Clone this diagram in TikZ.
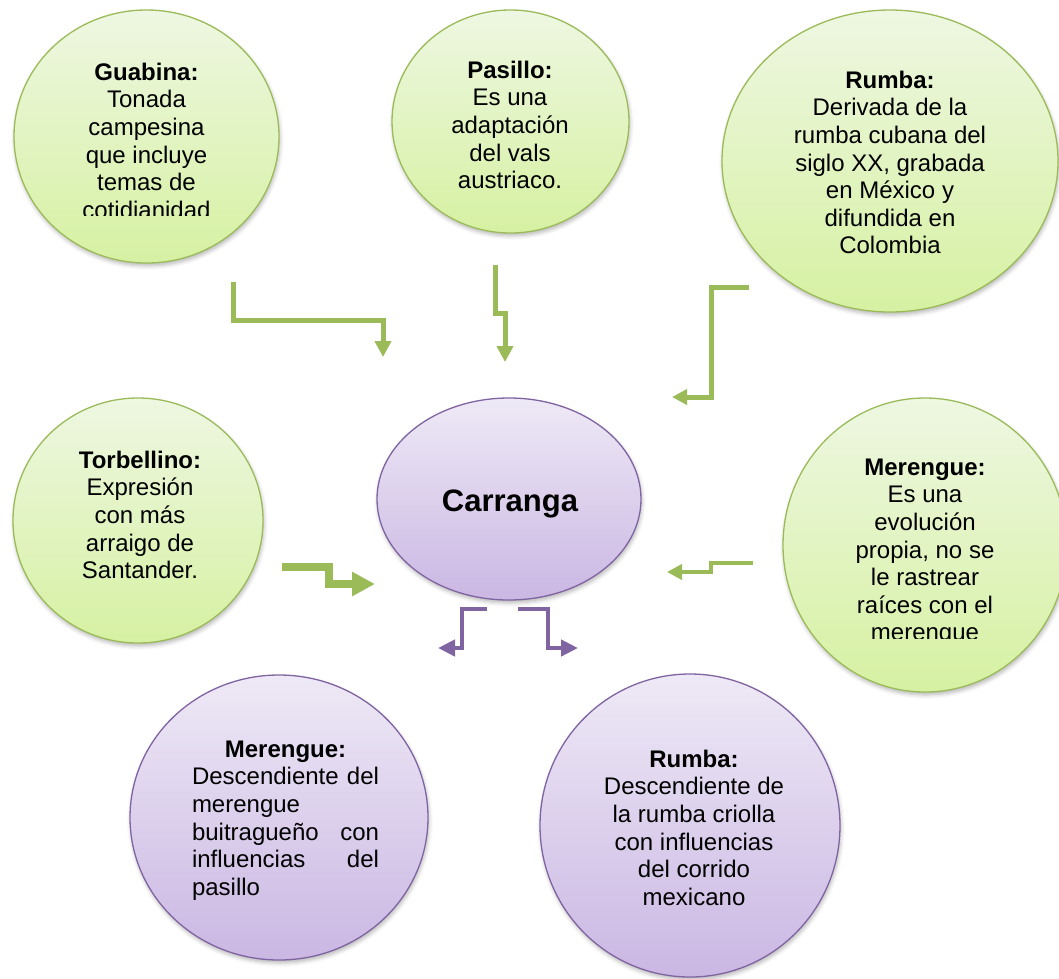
\documentclass[tikz,border=0pt]{standalone}
\usepackage{fontspec}
\setmainfont{Liberation Sans}
\usetikzlibrary{shapes.geometric,arrows.meta,shadows.blur}
\definecolor{grn}{HTML}{9BBB59}
\definecolor{gtop}{HTML}{EEF7E2}
\definecolor{gbot}{HTML}{D6F1A2}
\definecolor{pur}{HTML}{8064A2}
\definecolor{ptop}{HTML}{EEE9F6}
\definecolor{pbot}{HTML}{CAB7E3}
\newcommand\firstl{\rule{0pt}{18pt}}
\begin{document}
\begin{tikzpicture}[x=1pt,y=-1pt,
  shad/.style={blur shadow={shadow xshift=1pt,shadow yshift=-3pt,shadow blur radius=4pt,shadow opacity=28}},
  gcirc/.style={ellipse,draw=grn,line width=1.3pt,top color=gtop,bottom color=gbot,inner sep=0pt,shad},
  pcirc/.style={ellipse,draw=pur,line width=1.3pt,top color=ptop,bottom color=pbot,inner sep=0pt,shad},
  txt/.style={font=\fontsize{24}{27.6}\selectfont,align=center,inner sep=0pt,anchor=north},
  garrow/.style={draw=grn,line width=#1,line join=miter},
  parrow/.style={draw=pur,line width=#1,line join=miter}
]
\useasboundingbox (0,0) rectangle (1059,978);

% circles
\node[gcirc,minimum width=265pt,minimum height=253pt] (guabina) at (146.5,136.5) {};
\node[gcirc,minimum width=237pt,minimum height=223pt] (pasillo) at (510.5,121.5) {};
\node[gcirc,minimum width=336pt,minimum height=302pt] (rumbaT) at (890,161) {};
\node[gcirc,minimum width=250pt,minimum height=245pt] (torbellino) at (138,520.5) {};
\node[pcirc,minimum width=264pt,minimum height=202pt] (carranga) at (509,499) {};
\node[gcirc,minimum width=284pt,minimum height=294pt] (merengueR) at (925,545) {};
\node[pcirc,minimum width=298pt,minimum height=285pt] (merengueP) at (279,817.5) {};
\node[pcirc,minimum width=300pt,minimum height=303pt] (rumbaP) at (690,825.5) {};

% texts
\begin{scope}
\clip (20,40) rectangle (270,215);
\node[txt] (guabinaT) at (146.5,62) {\firstl\textbf{Guabina:}\\Tonada\\campesina\\que incluye\\temas de\\cotidianidad};
\end{scope}
\node[txt] (pasilloT) at (510,60) {\firstl\textbf{Pasillo:}\\Es una\\adaptación\\del vals\\austriaco.};
\node[txt] (rumbaTT) at (890,70) {\firstl\textbf{Rumba:}\\Derivada de la\\rumba cubana del\\siglo XX, grabada\\en México y\\difundida en\\Colombia};
\node[txt] (torbellinoT) at (140,450) {\firstl\textbf{Torbellino:}\\Expresión\\con más\\arraigo de\\Santander.};
\node[font=\bfseries\fontsize{31}{36}\selectfont,anchor=base,inner sep=0pt] (carrangaT) at (510,511) {Carranga};
\begin{scope}
\clip (790,430) rectangle (1059,638);
\node[txt] (merengueRT) at (925,457) {\firstl\textbf{Merengue:}\\Es una\\evolución\\propia, no se\\le rastrear\\raíces con el\\merengue};
\end{scope}
\node[txt] (merenguePT) at (285.5,739) {\firstl\textbf{Merengue:}\\\makebox[187pt][s]{Descendiente del}\\\makebox[187pt][l]{merengue}\\\makebox[187pt][s]{buitragueño con}\\\makebox[187pt][s]{influencias del}\\\makebox[187pt][l]{pasillo}};
\node[txt] (rumbaPT) at (694,749) {\firstl\textbf{Rumba:}\\Descendiente de\\la rumba criolla\\con influencias\\del corrido\\mexicano};

% arrow end points
\coordinate (a1s) at (233,282);  \coordinate (a1e) at (383,357);
\coordinate (a2s) at (495.5,265); \coordinate (a2e) at (505,362);
\coordinate (a3s) at (749,287);  \coordinate (a3e) at (672,397);
\coordinate (a4s) at (282,567);  \coordinate (a4e) at (375,584);
\coordinate (a5s) at (753,563);  \coordinate (a5e) at (667,572);
\coordinate (a6s) at (487,609);  \coordinate (a6e) at (438,648);
\coordinate (a7s) at (518,609);  \coordinate (a7e) at (578,648);

% arrows
\draw[garrow=5pt,-{Triangle[length=16pt,width=16pt]}] (a1s) -- (233,320) -| (a1e);
\draw[garrow=5pt,-{Triangle[length=16pt,width=16pt]}] (a2s) -- (495.5,313) -- (505,313) -- (a2e);
\draw[garrow=5pt,-{Triangle[length=15pt,width=15pt]}] (a3s) -- (711,287) |- (a3e);
\draw[garrow=7.3pt,-{Triangle[length=23pt,width=23pt]}] (a4s) -- (329,567) |- (a4e);
\draw[garrow=4.3pt,-{Triangle[length=15pt,width=15pt]}] (a5s) -- (711,563) |- (a5e);
\draw[parrow=4.7pt,-{Triangle[length=17pt,width=16pt]}] (a6s) -- (462,609) |- (a6e);
\draw[parrow=4.7pt,-{Triangle[length=17pt,width=16pt]}] (a7s) -- (548,609) |- (a7e);
\end{tikzpicture}
\end{document}
